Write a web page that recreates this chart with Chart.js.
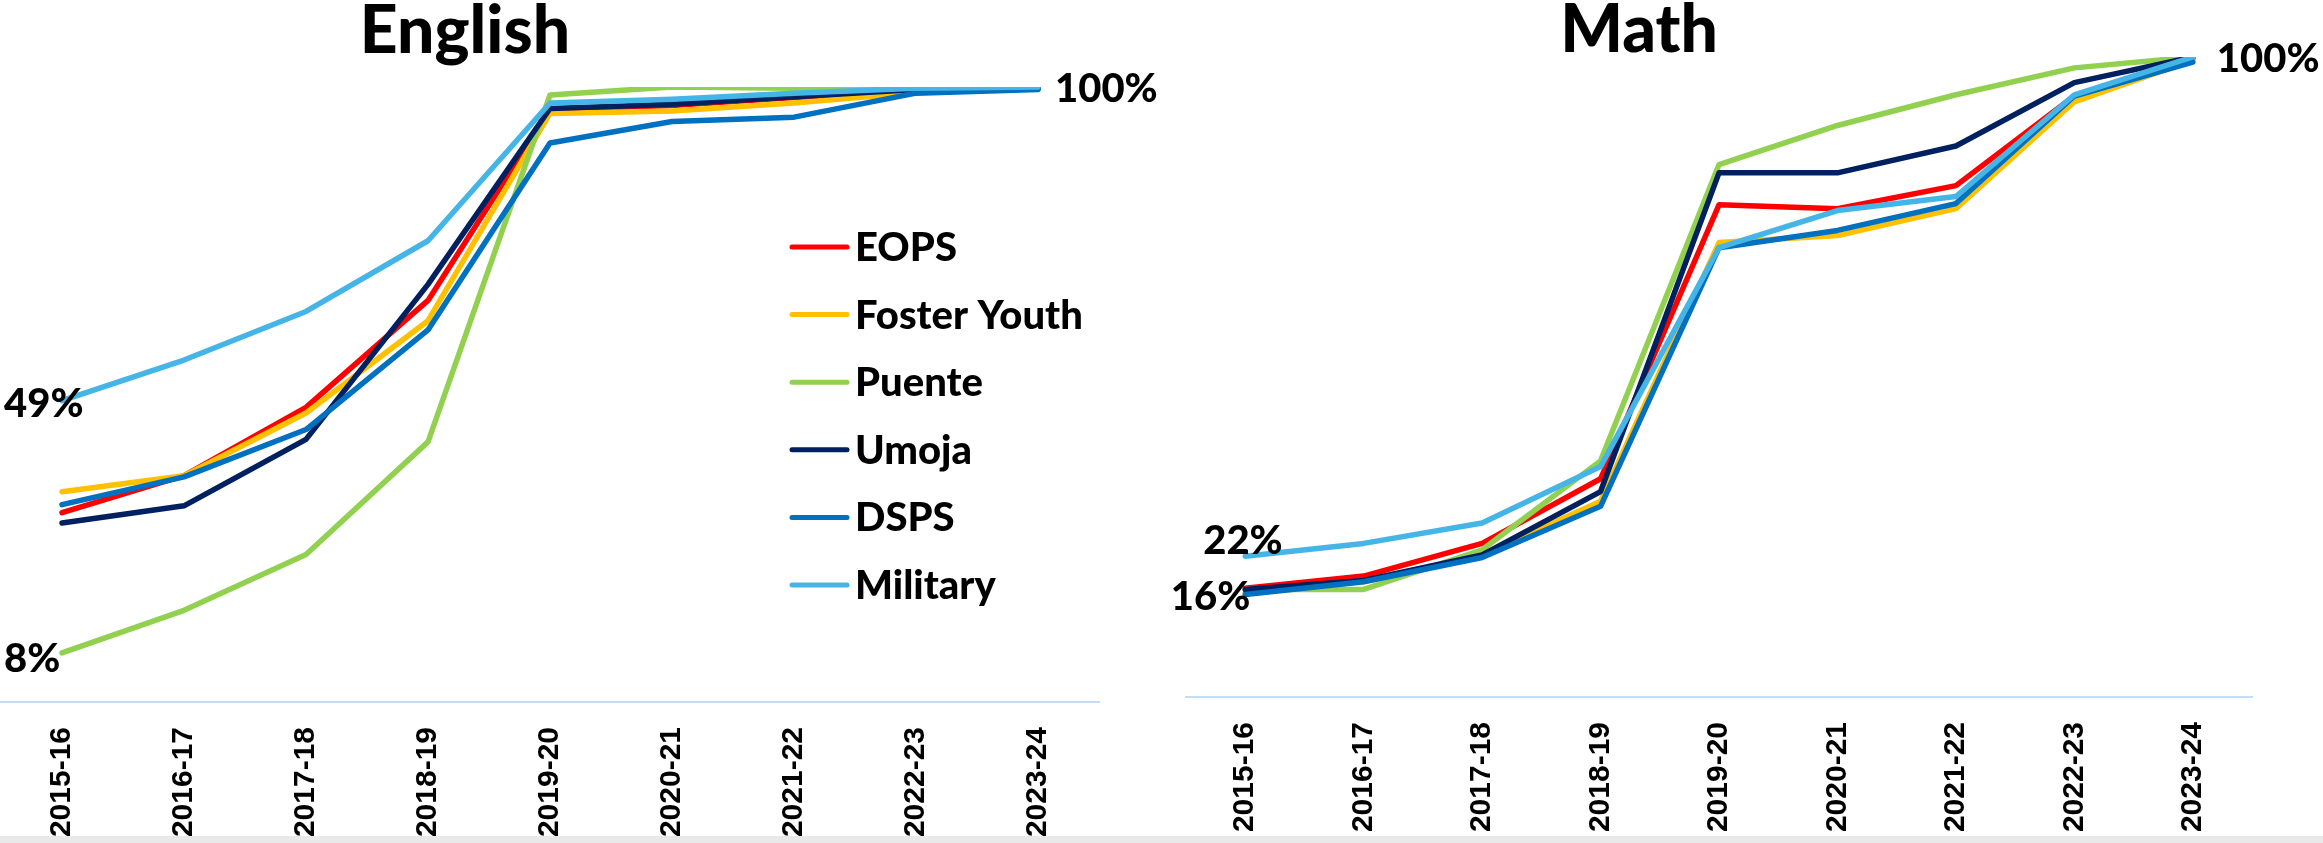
<!DOCTYPE html>
<html>
<head>
<meta charset="utf-8">
<script src="https://cdn.jsdelivr.net/npm/chart.js@4.4.1/dist/chart.umd.min.js"></script>
<style>
  body { margin: 0; background: #fff; }
  #wrap { position: relative; width: 2323px; height: 843px; overflow: hidden; background: #fff; }
  .box { position: absolute; top: 0; height: 843px; }
  #strip { position: absolute; left: 0; top: 836px; width: 2323px; height: 7px; background: #e9e9e9; }
</style>
</head>
<body>
<div id="wrap">
  <div class="box" style="left:0;width:1160px"><canvas id="english" width="1160" height="843"></canvas></div>
  <div class="box" style="left:1160px;width:1163px"><canvas id="math" width="1163" height="843"></canvas></div>
  <div id="strip"></div>
</div>
<script>
const years = ['2015-16', '2016-17', '2017-18', '2018-19', '2019-20', '2020-21', '2021-22', '2022-23', '2023-24'];
const groups = ['EOPS', 'Foster Youth', 'Puente', 'Umoja', 'DSPS', 'Military'];
const groupColors = ['#FF0000', '#FFC000', '#92D050', '#002060', '#0070C0', '#45B5E8'];

// English, cumulative % by year
const englishEops     = [30.8, 36.8, 47.9, 65.3, 96.3, 97.0, 98.3, 99.3, 99.8];
const englishFoster   = [34.2, 36.8, 47.0, 62.0, 95.7, 96.1, 97.4, 99.1, 99.8];
const englishPuente   = [8, 14.9, 24.0, 42.3, 98.7, 100, 99.8, 100, 100];
const englishUmoja    = [29.1, 31.9, 42.7, 67.9, 96.5, 97.2, 98.4, 99.6, 99.8];
const englishDsps     = [32.1, 36.6, 44.3, 60.5, 90.9, 94.4, 95.1, 99.0, 99.6];
const englishMilitary = [49, 55.6, 63.5, 75.0, 97.4, 98.0, 99.0, 99.8, 100];

// Math
const mathEops     = [17.0, 18.9, 24.0, 34.1, 76.9, 76.3, 79.9, 93.9, 99.7];
const mathFoster   = [16.3, 18.0, 22.2, 30.6, 71.0, 72.1, 76.3, 93.0, 99.5];
const mathPuente   = [16.8, 16.8, 23.0, 36.9, 83.2, 89.3, 94.1, 98.3, 100];
const mathUmoja    = [16.8, 18.2, 22.2, 32.1, 81.9, 81.9, 86.1, 96.0, 100];
const mathDsps     = [16, 18.0, 21.8, 29.8, 70.2, 72.9, 77.1, 93.9, 99.2];
const mathMilitary = [22, 24.0, 27.2, 36.0, 70.2, 76.0, 78.2, 94.1, 100];

const fontFamily = 'Lato, "Noto Sans", sans-serif';

function makeDatasets(series) {
  return series.map((data, i) => ({
    label: groups[i],
    data: data,
    borderColor: groupColors[i],
    backgroundColor: groupColors[i],
    borderWidth: 5.5,
    borderJoinStyle: 'round',
    borderCapStyle: 'round',
    pointRadius: 0,
    tension: 0,
    order: series.length - i, // later series on top, like Excel
  }));
}

// titles, a few value labels and the in-plot legend
const overlay = {
  id: 'overlay',
  afterDatasetsDraw(chart, args, opts) {
    const ctx = chart.ctx;
    ctx.save();
    ctx.fillStyle = '#000';
    ctx.textBaseline = 'alphabetic';

    ctx.font = '900 66px ' + fontFamily;
    ctx.textAlign = 'center';
    ctx.fillText(opts.title, opts.titleX, opts.titleY);

    ctx.font = '900 40px ' + fontFamily;
    opts.labels.forEach(l => {
      const pt = chart.getDatasetMeta(l.ds).data[l.i];
      const v = chart.data.datasets[l.ds].data[l.i];
      ctx.textAlign = l.align;
      ctx.fillText(Math.round(v) + '%', pt.x + l.dx, pt.y + l.dy);
    });

    if (opts.legend) {
      const lg = opts.legend;
      chart.data.datasets.forEach((ds, i) => {
        const y = lg.y + i * lg.step;
        ctx.strokeStyle = ds.borderColor;
        ctx.lineWidth = 5;
        ctx.lineCap = 'round';
        ctx.beginPath();
        ctx.moveTo(lg.x, y);
        ctx.lineTo(lg.x + 55, y);
        ctx.stroke();
        ctx.textAlign = 'left';
        ctx.fillText(ds.label, lg.x + 63, y + 14);
      });
    }
    ctx.restore();
  }
};

function makeChart(id, series, axisHeight, padding, overlayOpts) {
  return new Chart(document.getElementById(id), {
    type: 'line',
    data: { labels: years, datasets: makeDatasets(series) },
    plugins: [overlay],
    options: {
      responsive: false,
      animation: false,
      devicePixelRatio: 1,
      layout: { padding: padding },
      plugins: {
        legend: { display: false },
        title: { display: false },
        tooltip: { enabled: false },
        overlay: overlayOpts,
      },
      scales: {
        y: { display: false, min: 0, max: 100 },
        x: {
          offset: true,
          grid: { display: false, drawTicks: false },
          border: { display: true, color: '#C5DCF5', width: 2 },
          ticks: {
            autoSkip: false,
            minRotation: 90,
            maxRotation: 90,
            padding: 25,
            color: '#000',
            font: { family: '"Liberation Sans", Arial, sans-serif', weight: 'bold', size: 30 },
          },
          afterFit: (scale) => { scale.height = axisHeight; },
        },
      },
    },
  });
}

makeChart('english',
  [englishEops, englishFoster, englishPuente, englishUmoja, englishDsps, englishMilitary],
  141, { left: 1, right: 61, top: 87, bottom: 0 },
  {
    title: 'English', titleX: 465, titleY: 53,
    labels: [
      { ds: 5, i: 0, dx: -58, dy: 16, align: 'left' },
      { ds: 2, i: 0, dx: -58, dy: 19, align: 'left' },
      { ds: 5, i: 8, dx: 17, dy: 15, align: 'left' },
    ],
    legend: { x: 792, y: 247, step: 67.6 },
  });

makeChart('math',
  [mathEops, mathFoster, mathPuente, mathUmoja, mathDsps, mathMilitary],
  146, { left: 26, right: 71, top: 57, bottom: 0 },
  {
    title: 'Math', titleX: 479, titleY: 52,
    labels: [
      { ds: 5, i: 0, dx: -42, dy: -2, align: 'left' },
      { ds: 4, i: 0, dx: 5, dy: 15, align: 'right' },
      { ds: 5, i: 8, dx: 24, dy: 15, align: 'left' },
    ],
  });
</script>
</body>
</html>
